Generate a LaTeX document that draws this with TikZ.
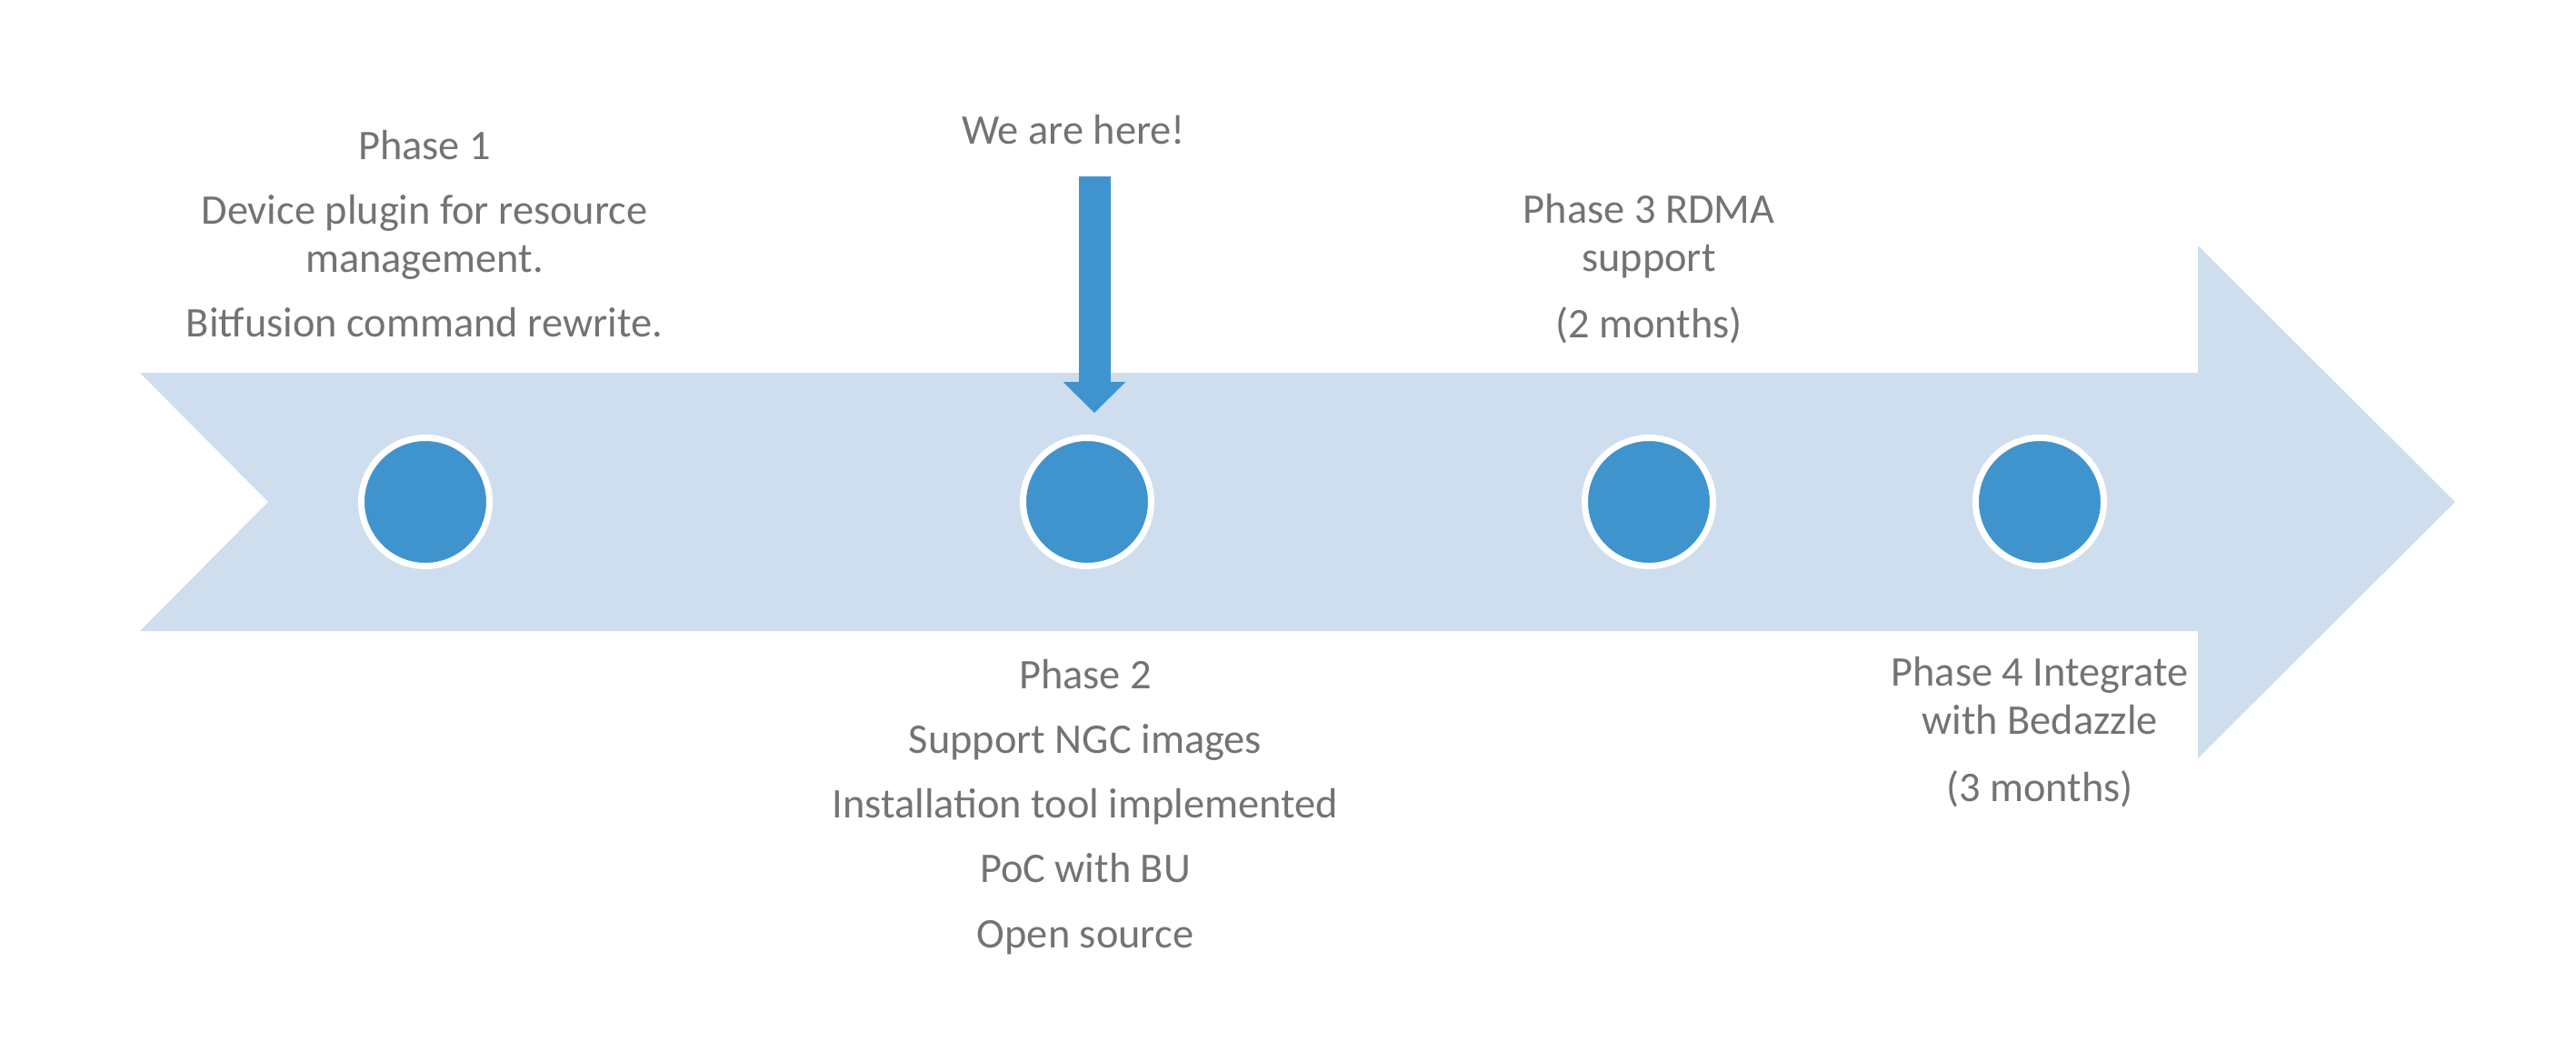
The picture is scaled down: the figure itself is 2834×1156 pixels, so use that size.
\documentclass[tikz,border=0pt]{standalone}
\usepackage{fontspec}
\setmainfont{Carlito}
\usetikzlibrary{arrows.meta}
\definecolor{bandblue}{RGB}{207,222,238}
\definecolor{dotblue}{RGB}{64,148,205}
\definecolor{labelgray}{RGB}{115,115,118}
\tikzset{
	dot/.style={circle,fill=dotblue,draw=white,line width=0.7mm,minimum size=14.1mm,inner sep=0pt},
	phase/.style={align=center,anchor=base,inner sep=0pt,text=labelgray,font=\fontsize{13.2}{15.1}\selectfont},
	pointer/.style={dotblue,line width=3.5mm,-{Triangle[width=6.9mm,length=3.4mm,line width=0pt]}}
}

\begin{document}
\begin{tikzpicture}[x=0.1mm,y=-0.1mm]
	\useasboundingbox (0,0) rectangle (2834,1156);
	% band arrow
	\fill[bandblue] (154,410) -- (2418,410) -- (2418,270) -- (2701,552) -- (2418,834) -- (2418,694) -- (154,694) -- (295,552) -- cycle;
	
	%% phase dots
	\foreach \x/\n in {468/pa,1196/pb,1814/pc,2244/pd}{
		\node[dot] (\n) at (\x,552) {};
	}
	
	% base sits on the last line
	\node[phase] (pa text) at (467,370) {Phase 1\\[1.8mm] Device plugin for resource\\ management.\\[1.7mm] Bitfusion command rewrite.};
	\node[phase] (pb text) at (1194,1042) {Phase 2\\[1.8mm] Support NGC images\\[1.8mm] Installation tool implemented\\[1.8mm] PoC with BU\\[1.8mm] Open source};
	\node[phase] (pc text) at (1814,371) {Phase 3 RDMA\\ support\\[1.9mm] (2 months)};
	\node[phase] (pd text) at (2244,881) {Phase 4 Integrate\\ with Bedazzle\\[2mm] (3 months)};
	
	% we are here
	\node[phase] (here) at (1181,158) {We are here!};
	\coordinate (here from) at (1204,194);
	\coordinate (here to) at (1204,454);
	\draw[pointer] (here from) -- (here to);
\end{tikzpicture}
\end{document}
